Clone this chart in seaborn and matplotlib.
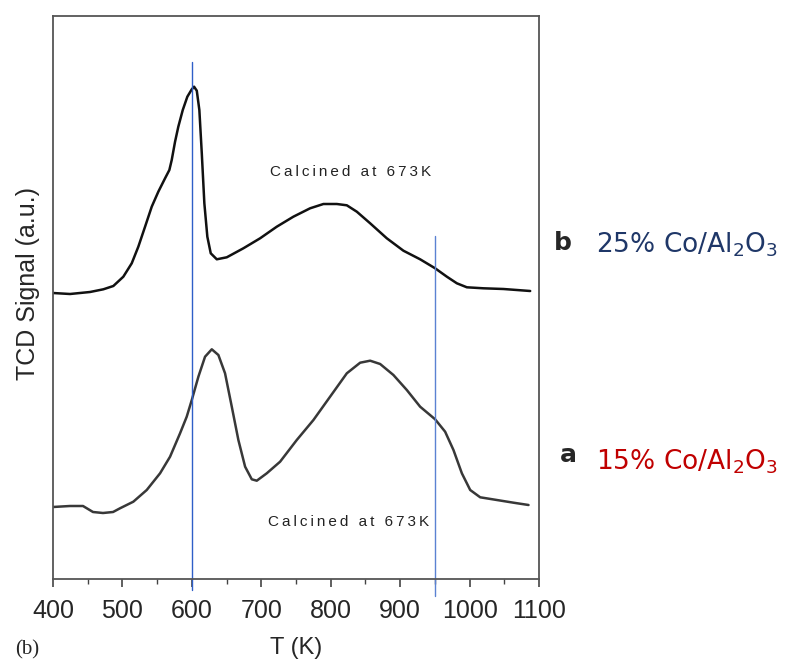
import numpy as np
import pandas as pd
import matplotlib
matplotlib.use("Agg")
import matplotlib.pyplot as plt
import seaborn as sns

# ---- data ----
T_b = [400.0, 424.5, 453.3, 472.5, 486.9, 501.3, 513.4, 522.9, 532.6, 542.2, 551.7, 561.4,
       567.6, 571.0, 575.8, 580.5, 586.9, 593.5, 599.9, 603.2, 607.1, 610.8, 614.3, 618.0,
       622.3, 627.2, 635.9, 650.3, 674.2, 698.3, 722.3, 746.2, 770.3, 789.5, 808.8, 823.2,
       837.6, 856.8, 880.8, 904.7, 928.8, 950.4, 967.3, 981.7, 996.1, 1020.0, 1048.8, 1087.3]
S_b = [287, 286, 288, 290.7, 294, 303.3, 316.7, 333.3, 353.3, 373.3, 388.3, 401.7,
       410, 420, 438.3, 453.3, 470, 483.3, 490.7, 493.3, 489.3, 470, 426.7, 376.7,
       343.3, 326.7, 320.7, 322.7, 331.7, 341.7, 353.3, 363.3, 371.7, 376, 376, 374.7,
       368.3, 356.7, 341.7, 329.3, 320.7, 311.7, 303.3, 296.7, 292.7, 291.7, 291, 289]

T_a = [400.0, 424.5, 443.2, 450.4, 457.6, 472.0, 486.5, 496.5, 515.7, 535.0, 554.2, 568.6,
       583.0, 592.6, 599.9, 609.4, 619.0, 628.7, 638.2, 647.8, 657.5, 667.0, 676.7, 686.3,
       693.5, 707.9, 727.1, 751.1, 775.1, 799.1, 823.2, 842.4, 856.8, 871.2, 890.3, 909.6,
       928.8, 950.4, 964.8, 976.8, 988.9, 1000.9, 1015.3, 1039.3, 1063.3, 1084.9]
S_a = [73, 74, 74, 71, 68, 67, 68, 71.7, 78.3, 90, 106.7, 123.3,
       146.7, 163.3, 180, 203.3, 223.3, 230.7, 225, 206.7, 173.3, 140, 113.3, 100.7,
       99.3, 106.7, 118.3, 140, 160, 183.3, 206.7, 217.3, 219.3, 216, 205, 190,
       173.3, 160.7, 148.3, 130, 106.7, 90, 82.7, 80, 77.3, 75]

ref_lines = [600, 950]
x_ticks = [400, 500, 600, 700, 800, 900, 1000, 1100]
annot_text = "Calcined at 673K"
label_b = "25% Co/Al$_2$O$_3$"
label_a = "15% Co/Al$_2$O$_3$"

df = pd.concat([
    pd.DataFrame({"T": T_b, "S": S_b, "sample": "b"}),
    pd.DataFrame({"T": T_a, "S": S_a, "sample": "a"}),
])

sns.set_style("white")
plt.rcParams["font.family"] = ["Liberation Sans", "DejaVu Sans"]

fig = plt.figure(figsize=(7.89, 6.64), dpi=100)
ax = fig.add_axes([53 / 789, 85.4 / 664, 486 / 789, 562.6 / 664])

sns.lineplot(data=df, x="T", y="S", hue="sample", palette={"b": "#111111", "a": "#383838"},
             linewidth=1.8, legend=False, ax=ax, sort=False, estimator=None)
for ln in ax.lines:
    ln.set_solid_joinstyle("round")
    ln.set_solid_capstyle("round")

ax.set_xlim(400, 1100)
ax.set_ylim(1.4, 564)
ax.set_xticks(x_ticks)
ax.set_xticks(np.arange(450, 1100, 100), minor=True)
ax.set_yticks([])
ax.tick_params(axis="x", which="major", direction="out", length=6, width=1.2,
               labelsize=18, pad=8.5, color="#444444", bottom=True)
ax.tick_params(axis="x", which="minor", direction="out", length=3.5, width=1.0,
               color="#444444", bottom=True)
for s in ax.spines.values():
    s.set_color("#555555")
    s.set_linewidth(1.3)

# reference vertical lines
tops = [0.918, 0.609]
bots = [-0.02, -0.031]
cols = ["#2f5fc8", "#5b82d2"]
for xv, t, b, c in zip(ref_lines, tops, bots, cols):
    ax.axvline(xv, ymin=b, ymax=t, color=c, linewidth=1.0, clip_on=False)

ax.set_xlabel("T (K)", fontsize=17, va="center")
ax.xaxis.set_label_coords(0.5, -0.1234)
ax.set_ylabel("TCD Signal (a.u.)", fontsize=18)
ax.yaxis.set_label_coords(-0.026, 0.525)

spaced = "\u2009".join(annot_text)
ax.text(828, 408, spaced, fontsize=11, ha="center", va="center", color="#222222",
        family=["Liberation Sans", "DejaVu Sans"])
ax.text(825, 58, spaced, fontsize=11, ha="center", va="center", color="#222222",
        family=["Liberation Sans", "DejaVu Sans"])

fig.text(0.7136, 0.634, "b", fontsize=18, fontweight="bold", ha="center", va="center",
         family="DejaVu Sans")
fig.text(0.7554, 0.631, label_b, fontsize=19, ha="left", va="center", color="#1f3768",
         family="DejaVu Sans")
fig.text(0.720, 0.315, "a", fontsize=18, fontweight="bold", ha="center", va="center",
         family="DejaVu Sans")
fig.text(0.7554, 0.304, label_a, fontsize=19, ha="left", va="center", color="#c00000",
         family="DejaVu Sans")
fig.text(0.019, 0.022, "(b)", fontsize=15, ha="left", va="center", family="Liberation Serif")

fig.savefig("out.png", dpi=100)
